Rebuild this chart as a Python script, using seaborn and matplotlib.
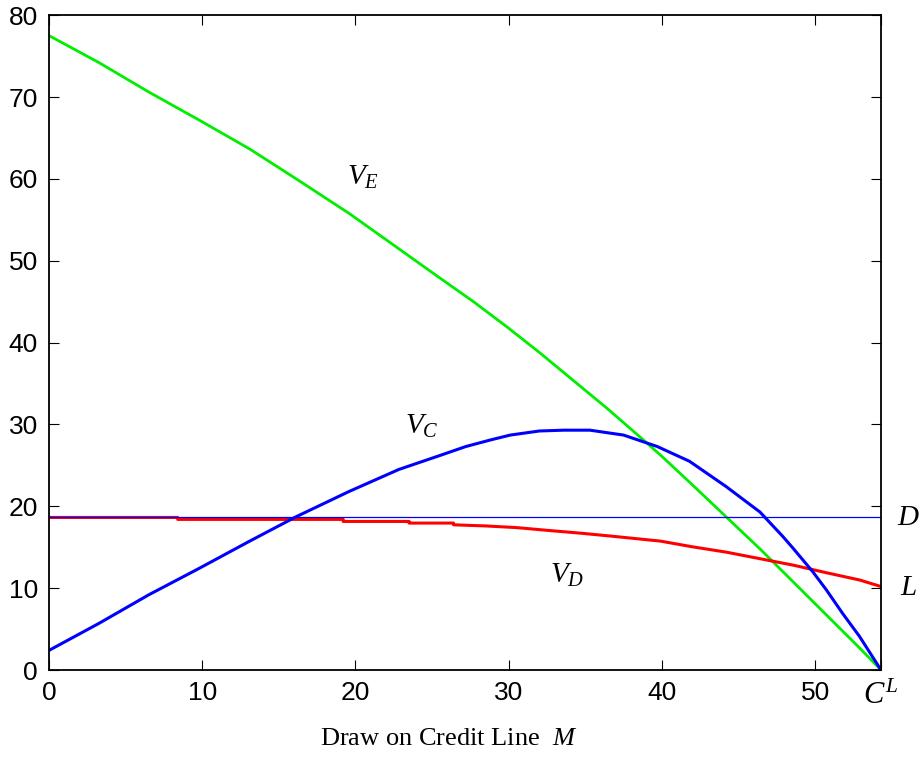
import numpy as np
import pandas as pd
import seaborn as sns
import matplotlib
matplotlib.use("Agg")
import matplotlib.pyplot as plt

# values
CL = 54.3          # C^L, end of the credit line
D_LEVEL = 18.75    # face value D

ve_x = [0, 3.26, 6.52, 9.78, 13.05, 16.3, 19.57, 22.8, 25.5, 27.7, 29.9, 32.0,
        34.2, 36.4, 38.55, 40.0, 42.0, 44.2, 46.4, 48.55, 50.7, 52.9, CL]
ve_y = [77.5, 74.2, 70.6, 67.2, 63.7, 59.8, 55.8, 51.5, 47.9, 45.0, 41.9, 38.8,
        35.4, 32.0, 28.5, 26.1, 22.6, 18.7, 14.8, 10.8, 6.8, 2.7, 0.0]

vc_x = [0, 3.26, 6.52, 9.78, 13.05, 16.1, 19.57, 22.83, 25.5, 27.2, 28.8, 30.1,
        32.0, 33.6, 35.3, 37.5, 39.7, 41.8, 44.2, 46.4, 47.9, 48.55, 49.85,
        50.73, 51.8, 52.9, CL]
vc_y = [2.4, 5.7, 9.2, 12.4, 15.7, 18.7, 21.8, 24.5, 26.2, 27.3, 28.1, 28.7,
        29.2, 29.3, 29.3, 28.7, 27.3, 25.5, 22.4, 19.3, 16.3, 14.9, 12.0,
        9.8, 6.9, 4.1, 0.0]

# V_D moves in small steps at the start
vd_x = [0, 8.4, 8.4, 19.2, 19.2, 23.5, 23.5, 26.4, 26.4, 28.5, 30.5, 32.6,
        34.8, 37.0, 39.9, 42.0, 44.2, 46.4, 48.6, 50.7, 52.9, CL]
vd_y = [18.64, 18.64, 18.4, 18.4, 18.15, 18.15, 17.95, 17.95, 17.74, 17.6,
        17.4, 17.05, 16.7, 16.3, 15.75, 15.05, 14.4, 13.6, 12.8, 11.9, 11.0, 10.2]

xticks = [0, 10, 20, 30, 40, 50, CL]
xticklabels = ["0", "10", "20", "30", "40", "50", r"$C^L$"]
yticks = [0, 10, 20, 30, 40, 50, 60, 70, 80]

sns.set_style("ticks")
plt.rcParams["font.family"] = ["Liberation Sans", "DejaVu Sans"]
plt.rcParams["mathtext.fontset"] = "custom"
plt.rcParams["mathtext.rm"] = "Liberation Serif"
plt.rcParams["mathtext.it"] = "Liberation Serif:italic"

fig = plt.figure(figsize=(9.2, 7.57), dpi=100)
ax = fig.add_axes([0.0533, 0.1149, 0.9043, 0.8651])

df_e = pd.DataFrame({"x": ve_x, "y": ve_y})
df_c = pd.DataFrame({"x": vc_x, "y": vc_y})
df_d = pd.DataFrame({"x": vd_x, "y": vd_y})

sns.lineplot(data=df_e, x="x", y="y", color="#00ee00", lw=2.0, ax=ax,
             estimator=None, sort=False)
sns.lineplot(data=df_d, x="x", y="y", color="#ff0000", lw=2.2, ax=ax,
             estimator=None, sort=False)
sns.lineplot(data=df_c, x="x", y="y", color="#0000ff", lw=2.2, ax=ax,
             estimator=None, sort=False)
ax.axhline(D_LEVEL, color="#0000ff", lw=0.9)

ax.set_xlim(0, CL)
ax.set_ylim(0, 80)
ax.set_xticks(xticks)
ax.set_xticklabels(xticklabels)
ax.set_yticks(yticks)
ax.tick_params(direction="in", length=7, width=0.8, labelsize=19,
               colors="black", top=True, right=True, pad=8)
for s in ax.spines.values():
    s.set_linewidth(1.3)
    s.set_color("black")
ax.get_xticklabels()[-1].set_fontsize(22)

ax.set_xlabel(r"Draw on Credit Line  $M$", family="Liberation Serif",
              fontsize=19, labelpad=12, color="black")
ax.xaxis.label.set_x(0.48)
ax.set_ylabel("")

# curve names
lab = dict(fontsize=21, ha="center", va="center", color="black")
ax.text(20.5, 60.2, r"$V_E$", **lab)
ax.text(24.3, 29.8, r"$V_C$", **lab)
ax.text(33.8, 11.6, r"$V_D$", **lab)
ax.text(CL + 1.8, D_LEVEL, r"$D$", clip_on=False, **lab)
ax.text(CL + 1.8, 10.1, r"$L$", clip_on=False, **lab)

fig.savefig("out.png", dpi=100)
